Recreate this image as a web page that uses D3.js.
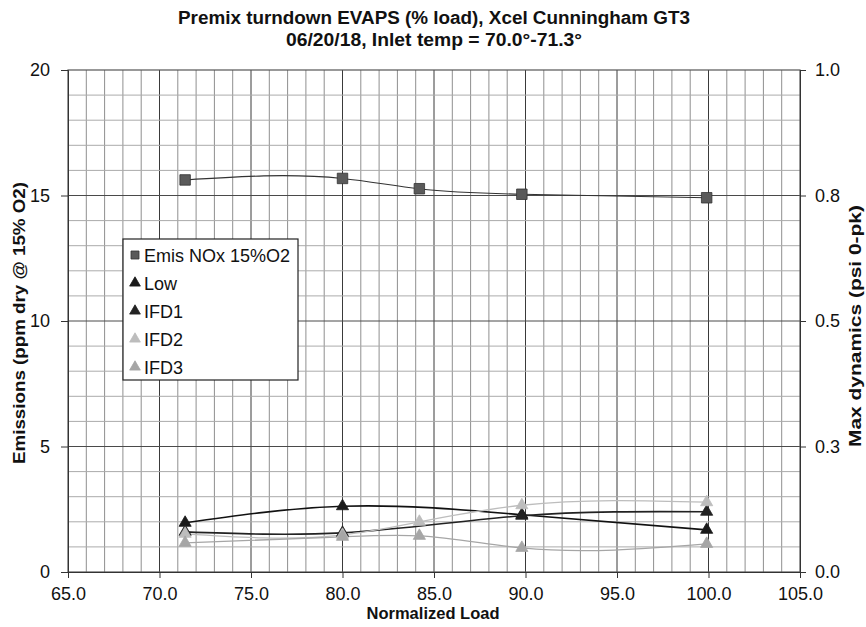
<!DOCTYPE html>
<html>
<head>
<meta charset="utf-8">
<script src="https://cdn.jsdelivr.net/npm/d3@7"></script>
<style>
  body { margin: 0; background: #fff; }
  svg { display: block; font-family: "Liberation Sans", Arial, sans-serif; }
</style>
</head>
<body>
<svg id="chart" width="866" height="627"></svg>
<script>
// data
const loads = [71.4, 80.0, 84.2, 89.8, 99.9];
const noxPpm = [15.62, 15.68, 15.27, 15.05, 14.91];
// dynamics (psi 0-pk), right axis; null = no reading at that load
const dynLow = [0.098, 0.131, null, 0.114, 0.084];
const dynIFD1 = [0.080, 0.078, null, 0.112, 0.120];
const dynIFD2 = [0.076, 0.074, 0.100, 0.133, 0.139];
const dynIFD3 = [0.058, 0.070, 0.072, 0.048, 0.056];

const xTicks = [65, 70, 75, 80, 85, 90, 95, 100, 105];
const yLeftTicks = [0, 5, 10, 15, 20];
const yRightTicks = [0, 0.25, 0.5, 0.75, 1];

const legendNames = ['Emis NOx 15%O2', 'Low', 'IFD1', 'IFD2', 'IFD3'];

const M = { left: 68, right: 800, top: 70, bottom: 572 };

// Excel-ish smoothed line: natural cubic spline y(x), emitted as beziers
function SplineX(context) { this._context = context; }
SplineX.prototype = {
  areaStart() {}, areaEnd() {},
  lineStart() { this._x = []; this._y = []; },
  point(x, y) { this._x.push(+x); this._y.push(+y); },
  lineEnd() {
    const X = this._x, Y = this._y, n = X.length, c = this._context;
    if (!n) return;
    c.moveTo(X[0], Y[0]);
    if (n === 2) { c.lineTo(X[1], Y[1]); return; }
    const h = d3.range(n - 1).map(i => X[i + 1] - X[i]);
    const s = d3.range(n - 1).map(i => (Y[i + 1] - Y[i]) / h[i]);
    // tridiagonal solve for second derivatives, natural ends
    const Mm = new Array(n).fill(0);
    const a = [], b = [], cc = [], r = [];
    for (let i = 1; i < n - 1; i++) {
      a.push(h[i - 1]); b.push(2 * (h[i - 1] + h[i])); cc.push(h[i]);
      r.push(6 * (s[i] - s[i - 1]));
    }
    const m = b.length;
    for (let i = 1; i < m; i++) {
      const w = a[i] / b[i - 1];
      b[i] -= w * cc[i - 1]; r[i] -= w * r[i - 1];
    }
    const sol = new Array(m);
    sol[m - 1] = r[m - 1] / b[m - 1];
    for (let i = m - 2; i >= 0; i--) sol[i] = (r[i] - cc[i] * sol[i + 1]) / b[i];
    for (let i = 0; i < m; i++) Mm[i + 1] = sol[i];
    for (let i = 0; i < n - 1; i++) {
      const d0 = s[i] - h[i] * (2 * Mm[i] + Mm[i + 1]) / 6;
      const d1 = s[i] + h[i] * (Mm[i] + 2 * Mm[i + 1]) / 6;
      const k = h[i] / 3;
      c.bezierCurveTo(X[i] + k, Y[i] + d0 * k, X[i + 1] - k, Y[i + 1] - d1 * k, X[i + 1], Y[i + 1]);
    }
  }
};
const curveSmooth = ctx => new SplineX(ctx);

const svg = d3.select('#chart');

const x = d3.scaleLinear().domain([65, 105]).range([M.left, M.right]);
const yL = d3.scaleLinear().domain([0, 20]).range([M.bottom, M.top]);
const yR = d3.scaleLinear().domain([0, 1]).range([M.bottom, M.top]);

// ── grid ──
const grid = svg.append('g');
grid.selectAll('line.v').data(d3.range(66, 105)).join('line')
  .attr('x1', d => x(d)).attr('x2', d => x(d))
  .attr('y1', M.top).attr('y2', M.bottom)
  .attr('stroke', d => d % 5 === 0 ? '#3a3a3a' : '#8f8f8f')
  .attr('stroke-width', 1);
grid.selectAll('line.h').data(d3.range(1, 20)).join('line')
  .attr('y1', d => yL(d)).attr('y2', d => yL(d))
  .attr('x1', M.left).attr('x2', M.right)
  .attr('stroke', d => d % 5 === 0 ? '#4a4a4a' : '#ababab')
  .attr('stroke-width', 1);
svg.append('rect')
  .attr('x', M.left).attr('y', M.top)
  .attr('width', M.right - M.left).attr('height', M.bottom - M.top)
  .attr('fill', 'none').attr('stroke', '#555').attr('stroke-width', 1.2);

// ── axes ──
const fs = 18;
const xAxis = svg.append('g').attr('transform', `translate(0,${M.bottom})`)
  .call(d3.axisBottom(x).tickValues(xTicks).tickFormat(d3.format('.1f')).tickSize(6).tickPadding(9));
const lAxis = svg.append('g').attr('transform', `translate(${M.left},0)`)
  .call(d3.axisLeft(yL).tickValues(yLeftTicks).tickSize(7).tickPadding(11));
const rAxis = svg.append('g').attr('transform', `translate(${M.right},0)`)
  .call(d3.axisRight(yR).tickValues(yRightTicks).tickFormat(d3.format('.1f')).tickSize(6).tickPadding(9));
[xAxis, lAxis, rAxis].forEach(a => {
  a.select('.domain').attr('stroke', '#333');
  a.selectAll('.tick line').attr('stroke', '#333');
  a.selectAll('text').attr('font-size', fs).attr('fill', '#111')
    .attr('font-family', '"Liberation Sans", Arial, sans-serif');
});

// ── titles ──
svg.append('text').attr('x', 434).attr('y', 24).attr('text-anchor', 'middle')
  .attr('font-size', 18).attr('font-weight', 'bold').attr('fill', '#111')
  .attr('textLength', 512).attr('lengthAdjust', 'spacingAndGlyphs')
  .text('Premix turndown EVAPS (% load), Xcel Cunningham GT3');
svg.append('text').attr('x', 434).attr('y', 46).attr('text-anchor', 'middle')
  .attr('font-size', 18).attr('font-weight', 'bold').attr('fill', '#111')
  .attr('textLength', 296).attr('lengthAdjust', 'spacingAndGlyphs')
  .text('06/20/18, Inlet temp = 70.0°-71.3°');
svg.append('text').attr('x', 433).attr('y', 619).attr('text-anchor', 'middle')
  .attr('font-size', 16.5).attr('font-weight', 'bold').attr('fill', '#111')
  .text('Normalized Load');
svg.append('text').attr('transform', 'translate(25,323) rotate(-90)').attr('text-anchor', 'middle')
  .attr('font-size', 17).attr('font-weight', 'bold').attr('fill', '#111')
  .attr('textLength', 282).attr('lengthAdjust', 'spacingAndGlyphs')
  .text('Emissions (ppm dry @ 15% O2)');
svg.append('text').attr('transform', 'translate(861,326) rotate(-90)').attr('text-anchor', 'middle')
  .attr('font-size', 17).attr('font-weight', 'bold').attr('fill', '#111')
  .attr('textLength', 242).attr('lengthAdjust', 'spacingAndGlyphs')
  .text('Max dynamics (psi 0-pk)');

// ── series ──
const series = [
  { vals: noxPpm, y: yL, line: '#333', width: 1.1, fill: '#5a5a5a', shape: d3.symbolSquare },
  { vals: dynLow, y: yR, line: '#111', width: 1.6, fill: '#1a1a1a', shape: d3.symbolTriangle },
  { vals: dynIFD1, y: yR, line: '#222', width: 1.6, fill: '#222', shape: d3.symbolTriangle },
  { vals: dynIFD2, y: yR, line: '#bdbdbd', width: 1.3, fill: '#bdbdbd', shape: d3.symbolTriangle },
  { vals: dynIFD3, y: yR, line: '#a6a6a6', width: 1.3, fill: '#a6a6a6', shape: d3.symbolTriangle },
];

const plot = svg.append('g');
series.forEach(s => {
  const pts = loads.map((l, i) => [l, s.vals[i]]).filter(p => p[1] != null);
  const line = d3.line().x(p => x(p[0])).y(p => s.y(p[1])).curve(curveSmooth);
  plot.append('path').datum(pts).attr('d', line)
    .attr('fill', 'none').attr('stroke', s.line).attr('stroke-width', s.width);
});
series.forEach(s => {
  const pts = loads.map((l, i) => [l, s.vals[i]]).filter(p => p[1] != null);
  const sym = d3.symbol().type(s.shape).size(s.shape === d3.symbolSquare ? 110 : 64);
  plot.selectAll(null).data(pts).join('path')
    .attr('transform', p => `translate(${x(p[0])},${s.y(p[1])})`)
    .attr('d', sym)
    .attr('fill', s.fill)
    .attr('stroke', s.shape === d3.symbolSquare ? '#333' : s.fill)
    .attr('stroke-width', 0.8);
});

// ── legend ──
const lg = svg.append('g').attr('transform', 'translate(123,239)');
lg.append('rect').attr('width', 175).attr('height', 141)
  .attr('fill', '#fff').attr('stroke', '#222').attr('stroke-width', 1.2);
legendNames.forEach((name, i) => {
  const s = series[i];
  const cy = 16 + i * 28;
  const sym = d3.symbol().type(s.shape).size(s.shape === d3.symbolSquare ? 64 : 50);
  lg.append('path').attr('transform', `translate(12,${cy})`).attr('d', sym)
    .attr('fill', s.fill).attr('stroke', s.shape === d3.symbolSquare ? '#333' : s.fill).attr('stroke-width', 0.8);
  lg.append('text').attr('x', 21).attr('y', cy + 6.5)
    .attr('font-size', 18).attr('fill', '#111').text(name);
});
</script>
</body>
</html>
